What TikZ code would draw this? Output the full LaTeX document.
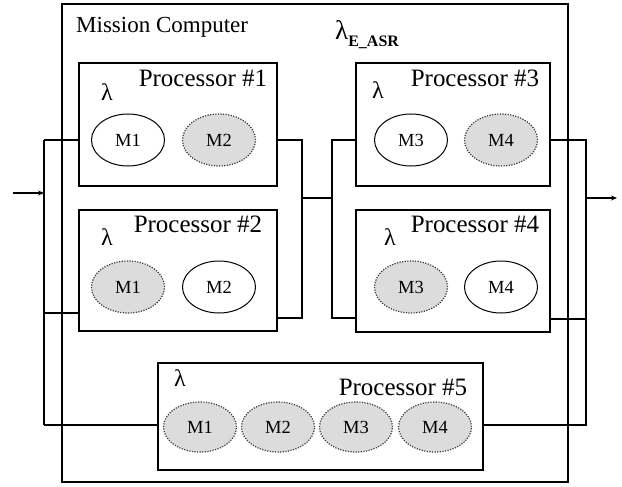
\documentclass[tikz,border=0pt]{standalone}
\usepackage{fontspec}
\setmainfont{Liberation Serif}
\usetikzlibrary{arrows.meta,shapes.geometric}
\definecolor{modfill}{HTML}{DCDCDC}
\definecolor{dotline}{HTML}{383838}
\begin{document}
\begin{tikzpicture}[x=1pt,y=-1pt,
  frame/.style={draw=black, line width=1.6pt, inner sep=0pt},
  wire/.style={draw=black, line width=1.6pt},
  flow/.style={wire, -{Stealth[length=6pt,width=5pt]}},
  active/.style={draw=black, line width=1pt, ellipse, minimum width=73pt, minimum height=52pt, inner sep=0pt, font=\fontsize{18.5}{22}\selectfont},
  spare/.style={active, draw=dotline, fill=modfill, dash pattern=on 1.2pt off 1.4pt, line width=1.2pt},
  ptitle/.style={anchor=base, font=\fontsize{25}{30}\selectfont, inner sep=0pt},
  rate/.style={font=\fontsize{24}{28}\selectfont, inner sep=0pt}]
\useasboundingbox (0,0) rectangle (622,487);

% enclosing computer
\node[frame, minimum width=506pt, minimum height=478pt] (mc) at (315,243) {};
\node[anchor=base west, inner sep=0pt, font=\fontsize{23}{27}\selectfont] (mctitle) at (76,33) {Mission Computer};
\node[anchor=base west, inner sep=0pt] (easr) at (335,40)
  {{\fontsize{27}{30}\selectfont λ}\raisebox{-7pt}{\fontsize{16}{18}\selectfont\bfseries E\_ASR}};

% processors
\node[frame, minimum width=198pt, minimum height=123pt] (p1) at (178,124.5) {};
\node[frame, minimum width=198pt, minimum height=121pt] (p2) at (178,270.5) {};
\node[frame, minimum width=194pt, minimum height=123pt] (p3) at (453,124.5) {};
\node[frame, minimum width=194pt, minimum height=122pt] (p4) at (453,271) {};
\node[frame, minimum width=325pt, minimum height=107pt] (p5) at (320.5,416.5) {};

\node[ptitle] (t1) at (203,87) {Processor \#1};
\node[ptitle] (t2) at (198,232) {Processor \#2};
\node[ptitle] (t3) at (475,87) {Processor \#3};
\node[ptitle] (t4) at (475,232) {Processor \#4};
\node[ptitle] (t5) at (403,395) {Processor \#5};

\node[rate] (l1) at (107,92) {λ};
\node[rate] (l2) at (107,237) {λ};
\node[rate] (l3) at (378,90) {λ};
\node[rate] (l4) at (390,237) {λ};
\node[rate] (l5) at (180,378) {λ};

% software modules
\node[active] (a1) at (128,140) {M1};
\node[spare]  (a2) at (219,140) {M2};
\node[spare]  (b1) at (128,287) {M1};
\node[active] (b2) at (219,287) {M2};
\node[active] (c3) at (411,140) {M3};
\node[spare]  (c4) at (501,140) {M4};
\node[spare]  (d3) at (411,287) {M3};
\node[active] (d4) at (501,287) {M4};
\node[spare, minimum height=50pt] (e1) at (200,427) {M1};
\node[spare, minimum height=50pt] (e2) at (278,427) {M2};
\node[spare, minimum height=50pt] (e3) at (356,427) {M3};
\node[spare, minimum height=50pt] (e4) at (435,427) {M4};

% bus junctions
\coordinate (in) at (13,193);
\coordinate (la) at (44,140);
\coordinate (lb) at (44,313);
\coordinate (lc) at (44,425);
\coordinate (lm) at (44,193);
\coordinate (ma) at (302,140);
\coordinate (mb) at (302,318);
\coordinate (mm) at (302,198);
\coordinate (na) at (332,140);
\coordinate (nb) at (332,318);
\coordinate (nm) at (332,198);
\coordinate (ra) at (586,140);
\coordinate (rb) at (586,319);
\coordinate (rc) at (586,425);
\coordinate (rm) at (586,198);
\coordinate (out) at (617,198);

% input stage
\draw[flow] (in) -- (lm);
\draw[wire] (la) -- (lc);
\draw[wire] (la) -- (la -| p1.west);
\draw[wire] (lb) -- (lb -| p2.west);
\draw[wire] (lc) -- (lc -| p5.west);

% between the two processor pairs
\draw[wire] (ma -| p1.east) -- (ma) -- (mb) -- (mb -| p2.east);
\draw[wire] (mm) -- (nm);
\draw[wire] (na -| p3.west) -- (na) -- (nb) -- (nb -| p4.west);

% output stage
\draw[wire] (ra -| p3.east) -- (ra) -- (rc) -- (rc -| p5.east);
\draw[wire] (rb -| p4.east) -- (rb);
\draw[flow] (rm) -- (out);
\end{tikzpicture}
\end{document}
